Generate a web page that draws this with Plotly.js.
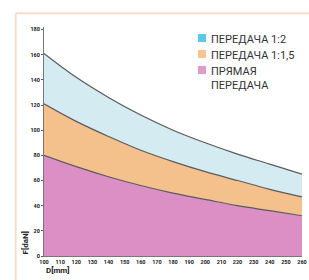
<!DOCTYPE html>
<html><head><meta charset="utf-8">
<script src="https://cdn.plot.ly/plotly-3.0.1.min.js"></script>
<style>html,body{margin:0;padding:0;background:#fff}#c{width:309px;height:280px}</style>
</head><body><div id="c"></div>
<script>
const D = [100, 120, 140, 160, 180, 200, 220, 240, 260];
const direct = [80, 71, 63, 56, 50, 45, 40, 36, 32];
const ratio115 = [121, 107, 95, 84, 75, 67, 60, 53, 47];
const ratio12 = [161, 142, 126, 112, 100, 90, 81, 73, 65];
const xTicks = [100,110,120,130,140,150,160,170,180,190,200,210,220,230,240,250,260];
const yTicks = [0,20,40,60,80,100,120,140,160,180];
const names = ['ПЕРЕДАЧА 1:2', 'ПЕРЕДАЧА 1:1,5', 'ПРЯМАЯ<br>ПЕРЕДАЧА'];
const legendColors = ['#5cc6ee', '#f9c491', '#e29bc9'];
const fillColors = ['#d3ebf1', '#f4c18d', '#dc8fc4'];
const lineCol = '#5a5a5a';

const traces = [
  {x: D, y: direct, type: 'scatter', mode: 'lines', fill: 'tozeroy', fillcolor: fillColors[2], line: {color: lineCol, width: 1.2, shape: 'spline'}, showlegend: false},
  {x: D, y: ratio115, type: 'scatter', mode: 'lines', fill: 'tonexty', fillcolor: fillColors[1], line: {color: lineCol, width: 1.2, shape: 'spline'}, showlegend: false},
  {x: D, y: ratio12, type: 'scatter', mode: 'lines', fill: 'tonexty', fillcolor: fillColors[0], line: {color: lineCol, width: 1.2, shape: 'spline'}, showlegend: false}
];

const H = 229, B = 256;
const legY = [38, 54, 70];
const shapes = [
  {type:'line', xref:'paper', yref:'paper', x0:-0.11, x1:1.03, y0:1.06, y1:1.06, line:{color:'#fbdcc8', width:2}},
  {type:'line', xref:'paper', yref:'paper', x0:-0.11, x1:-0.11, y0:1.06, y1:-0.2, line:{color:'#fbdcc8', width:2}}
];
const annotations = [];
names.forEach((n, i) => {
  const yp = (B - legY[i]) / H;
  shapes.push({type:'rect', xref:'paper', yref:'paper', x0:(198-44)/258, x1:(206-44)/258, y0:yp - 4/H, y1:yp + 4/H, fillcolor: legendColors[i], line:{width:0}});
  annotations.push({xref:'paper', yref:'paper', x:(209-44)/258, y:yp + 7/H, xanchor:'left', yanchor:'top', align:'left', text:n, showarrow:false, font:{family:'Liberation Sans Narrow, Roboto, sans-serif', size:11, color:'#333'}});
});
annotations.push({xref:'paper', yref:'paper', x:-0.045, y:0.0, xanchor:'right', yanchor:'bottom', textangle:-90, text:'<b>F[daN]</b>', showarrow:false, font:{family:'Roboto, sans-serif', size:8, color:'#222'}});
annotations.push({xref:'paper', yref:'paper', x:0.0, y:(B - 270) / H, xanchor:'left', yanchor:'middle', text:'<b>D[mm]</b>', showarrow:false, font:{family:'Roboto, sans-serif', size:8, color:'#222'}});

const layout = {
  width: 309, height: 280,
  margin: {l: 44, r: 7, t: 27, b: 24},
  paper_bgcolor: '#fff', plot_bgcolor: '#fff',
  xaxis: {range: [100, 260], tickvals: xTicks, ticktext: xTicks.map(String), showgrid: false, zeroline: false,
          showline: true, linecolor: '#777', linewidth: 1, ticks: '', tickfont: {family: 'Roboto, sans-serif', size: 5.5, color: '#222', weight: 'bold'}},
  yaxis: {range: [0, 182], tickvals: yTicks, ticktext: yTicks.map(String), showgrid: false, zeroline: false,
          showline: true, linecolor: '#777', linewidth: 1, ticks: 'outside', ticklen: 2, tickcolor: '#555',
          tickfont: {family: 'Roboto, sans-serif', size: 5.5, color: '#222', weight: 'bold'}},
  shapes: shapes, annotations: annotations, showlegend: false
};
Plotly.newPlot('c', traces, layout, {displayModeBar: false, staticPlot: true});
</script></body></html>
